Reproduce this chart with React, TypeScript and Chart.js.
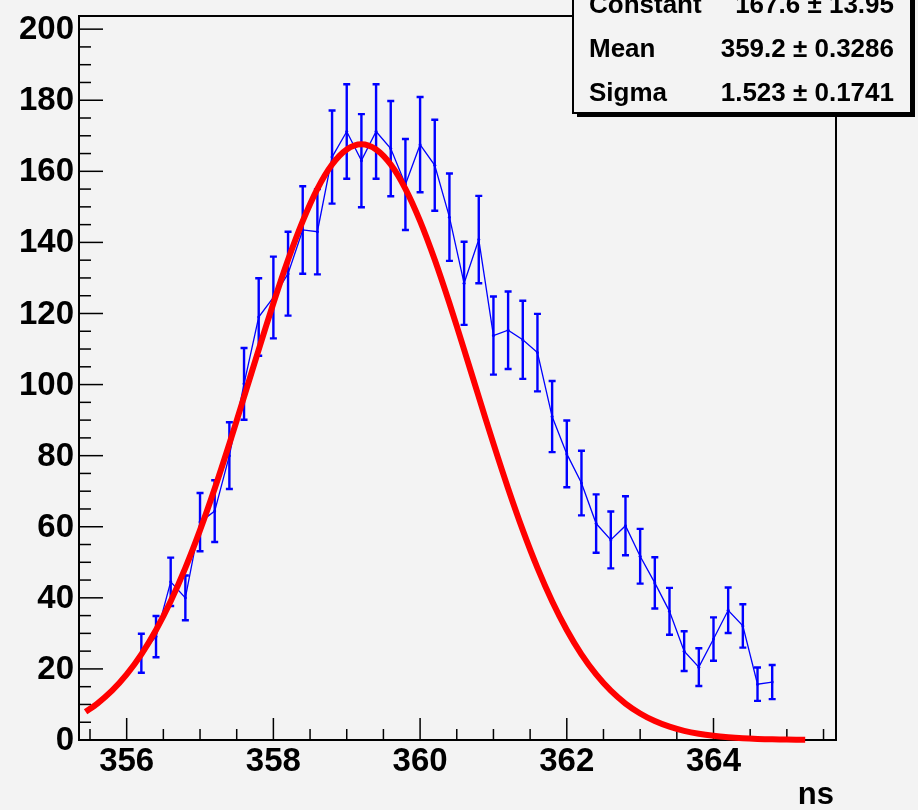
import React, { useEffect, useRef } from "react";
import { Chart, registerables } from "chart.js";

Chart.register(...registerables);

// ---- data ----
const binCenters = [
  356.2, 356.4, 356.6, 356.8, 357.0, 357.2, 357.4, 357.6, 357.8, 358.0,
  358.2, 358.4, 358.6, 358.8, 359.0, 359.2, 359.4, 359.6, 359.8, 360.0,
  360.2, 360.4, 360.6, 360.8, 361.0, 361.2, 361.4, 361.6, 361.8, 362.0,
  362.2, 362.4, 362.6, 362.8, 363.0, 363.2, 363.4, 363.6, 363.8, 364.0,
  364.2, 364.4, 364.6, 364.8,
];
const counts = [
  24.4, 29.1, 44.5, 40.0, 61.3, 64.4, 80.0, 100.2, 119.0, 124.5,
  131.2, 143.5, 143.0, 164.0, 171.2, 163.0, 171.2, 166.4, 156.3, 167.5,
  161.7, 147.1, 128.5, 140.8, 113.8, 115.3, 112.6, 109.0, 91.0, 80.5,
  72.3, 60.9, 56.3, 60.3, 51.7, 44.2, 36.2, 25.0, 20.5, 28.4,
  36.5, 32.1, 15.7, 16.3,
];
const errors = [
  5.5, 5.8, 6.8, 6.3, 8.2, 8.7, 9.4, 10.1, 10.9, 11.5,
  11.8, 12.3, 12.0, 13.1, 13.3, 13.1, 13.3, 13.4, 12.8, 13.4,
  12.8, 12.3, 11.7, 12.3, 11.0, 10.9, 11.0, 10.9, 10.0, 9.4,
  9.1, 8.2, 8.0, 8.3, 7.7, 7.2, 6.6, 5.6, 5.3, 6.1,
  6.4, 6.1, 4.7, 4.8,
];
// red fit curve
const fitX = [
  355.44, 355.6, 355.8, 356.0, 356.2, 356.4, 356.6, 356.8, 357.0, 357.2,
  357.4, 357.6, 357.8, 358.0, 358.2, 358.4, 358.6, 358.8, 359.0, 359.2,
  359.4, 359.6, 359.8, 360.0, 360.2, 360.4, 360.6, 360.8, 361.0, 361.2,
  361.4, 361.6, 361.8, 362.0, 362.2, 362.4, 362.6, 362.8, 363.0, 363.2,
  363.4, 363.6, 363.8, 364.0, 364.2, 364.4, 364.6, 364.8, 365.0, 365.25,
];
const fitY = [
  7.96, 10.25, 13.87, 18.44, 24.08, 30.93, 39.03, 48.42, 59.04, 70.76,
  83.36, 96.52, 109.85, 122.88, 135.11, 146.0, 155.09, 161.92, 166.16, 167.6,
  166.16, 161.92, 155.09, 146.0, 135.11, 122.88, 109.85, 96.52, 83.36, 70.76,
  59.04, 48.42, 39.03, 30.93, 24.08, 18.44, 13.87, 10.25, 7.46, 5.33,
  3.74, 2.58, 1.75, 1.17, 0.77, 0.49, 0.31, 0.19, 0.12, 0.07,
];
const xTickLabels = [356, 358, 360, 362, 364];
const yTickLabels = [0, 20, 40, 60, 80, 100, 120, 140, 160, 180, 200];
const xTitle = "ns";
const statNames = ["Constant", "Mean", "Sigma"];
const statValues = ["167.6 \u00b1 13.95", "359.2 \u00b1 0.3286", "1.523 \u00b1 0.1741"];

const X_MIN = 355.35;
const X_MAX = 365.67;
const Y_MIN = 0;
const Y_MAX = 203.7;

const BG = "#f3f3f3";
const FONT = "'Liberation Sans', Arial, Helvetica, sans-serif";

const rootPlugin = {
  id: "rootStyle",
  beforeDraw(chart: any) {
    const ctx = chart.ctx;
    ctx.save();
    ctx.fillStyle = BG;
    ctx.fillRect(0, 0, chart.width, chart.height);
    ctx.restore();
  },
  beforeDatasetsDraw(chart: any) {
    const ctx = chart.ctx;
    const xs = chart.scales.x;
    const ys = chart.scales.y;
    const a = chart.chartArea;
    ctx.save();
    // frame
    ctx.strokeStyle = "#000";
    ctx.lineWidth = 2;
    ctx.strokeRect(a.left, a.top, a.right - a.left, a.bottom - a.top);
    // x ticks (inside, from bottom)
    ctx.lineWidth = 1.5;
    for (let v = Math.ceil(X_MIN * 2) / 2; v <= X_MAX + 1e-9; v += 0.5) {
      const px = xs.getPixelForValue(v);
      const major = Math.abs(v / 2 - Math.round(v / 2)) < 1e-6;
      const len = major ? 22 : 11;
      ctx.beginPath();
      ctx.moveTo(px, a.bottom);
      ctx.lineTo(px, a.bottom - len);
      ctx.stroke();
    }
    // y ticks (inside, from left)
    for (let v = 0; v <= Y_MAX + 1e-9; v += 5) {
      const py = ys.getPixelForValue(v);
      const major = v % 20 === 0;
      const len = major ? 24 : 12;
      ctx.beginPath();
      ctx.moveTo(a.left, py);
      ctx.lineTo(a.left + len, py);
      ctx.stroke();
    }
    // labels
    ctx.fillStyle = "#000";
    ctx.font = `bold 33px ${FONT}`;
    ctx.textAlign = "center";
    ctx.textBaseline = "middle";
    xTickLabels.forEach((v) => {
      ctx.fillText(String(v), xs.getPixelForValue(v), 762);
    });
    ctx.textAlign = "right";
    yTickLabels.forEach((v) => {
      ctx.fillText(String(v), a.left - 5, ys.getPixelForValue(v) + 1);
    });
    ctx.font = `bold 31px ${FONT}`;
    ctx.textAlign = "right";
    ctx.fillText(xTitle, a.right - 2, 795);

    // error bars
    ctx.strokeStyle = "#0000ff";
    ctx.lineWidth = 2.4;
    binCenters.forEach((x, i) => {
      const px = xs.getPixelForValue(x);
      const top = ys.getPixelForValue(counts[i] + errors[i]);
      const bot = ys.getPixelForValue(counts[i] - errors[i]);
      ctx.beginPath();
      ctx.moveTo(px, top);
      ctx.lineTo(px, bot);
      ctx.moveTo(px - 3.5, top);
      ctx.lineTo(px + 3.5, top);
      ctx.moveTo(px - 3.5, bot);
      ctx.lineTo(px + 3.5, bot);
      ctx.stroke();
    });
    ctx.restore();
  },
  afterDraw(chart: any) {
    const ctx = chart.ctx;
    ctx.save();
    const bx = 573, by = -10, bw = 338, bh = 123;
    ctx.fillStyle = "#000";
    ctx.fillRect(bx + 4, by + 4, bw, bh);
    ctx.fillStyle = BG;
    ctx.fillRect(bx, by, bw, bh);
    ctx.strokeStyle = "#000";
    ctx.lineWidth = 2;
    ctx.strokeRect(bx, by, bw, bh);
    ctx.fillStyle = "#000";
    ctx.font = `bold 26px ${FONT}`;
    ctx.textBaseline = "middle";
    const rows = [6, 50, 94];
    statNames.forEach((n, i) => {
      ctx.textAlign = "left";
      ctx.fillText(n, 589, rows[i]);
      ctx.textAlign = "right";
      ctx.fillText(statValues[i], 894, rows[i]);
    });
    ctx.restore();
  },
};

export default function App() {
  const ref = useRef<HTMLCanvasElement | null>(null);
  useEffect(() => {
    if (!ref.current) return;
    const chart = new Chart(ref.current, {
      type: "scatter",
      data: {
        datasets: [
          {
            label: "fit",
            data: fitX.map((x, i) => ({ x, y: fitY[i] })),
            showLine: true,
            borderColor: "#ff0000",
            backgroundColor: "#ff0000",
            borderWidth: 6,
            pointRadius: 0,
            tension: 0.3,
            clip: false,
            order: 0,
          } as any,
          {
            label: "data",
            data: binCenters.map((x, i) => ({ x, y: counts[i] })),
            showLine: true,
            borderColor: "#0000ff",
            backgroundColor: "#0000ff",
            borderWidth: 1.3,
            pointRadius: 1.5,
            pointBorderWidth: 0,
            tension: 0,
            order: 1,
          } as any,
        ],
      },
      options: {
        animation: false,
        responsive: false,
        maintainAspectRatio: false,
        layout: { padding: { left: 79, right: 82, top: 16, bottom: 70 } },
        plugins: {
          legend: { display: false },
          tooltip: { enabled: false },
          title: { display: false },
        },
        scales: {
          x: { type: "linear", min: X_MIN, max: X_MAX, display: false },
          y: { type: "linear", min: Y_MIN, max: Y_MAX, display: false },
        },
      },
      plugins: [rootPlugin],
    });
    return () => chart.destroy();
  }, []);
  return (
    <div style={{ position: "absolute", left: 0, top: 0, width: 918, height: 810, background: BG }}>
      <canvas ref={ref} width={918} height={810} style={{ display: "block", width: 918, height: 810 }} />
    </div>
  );
}
